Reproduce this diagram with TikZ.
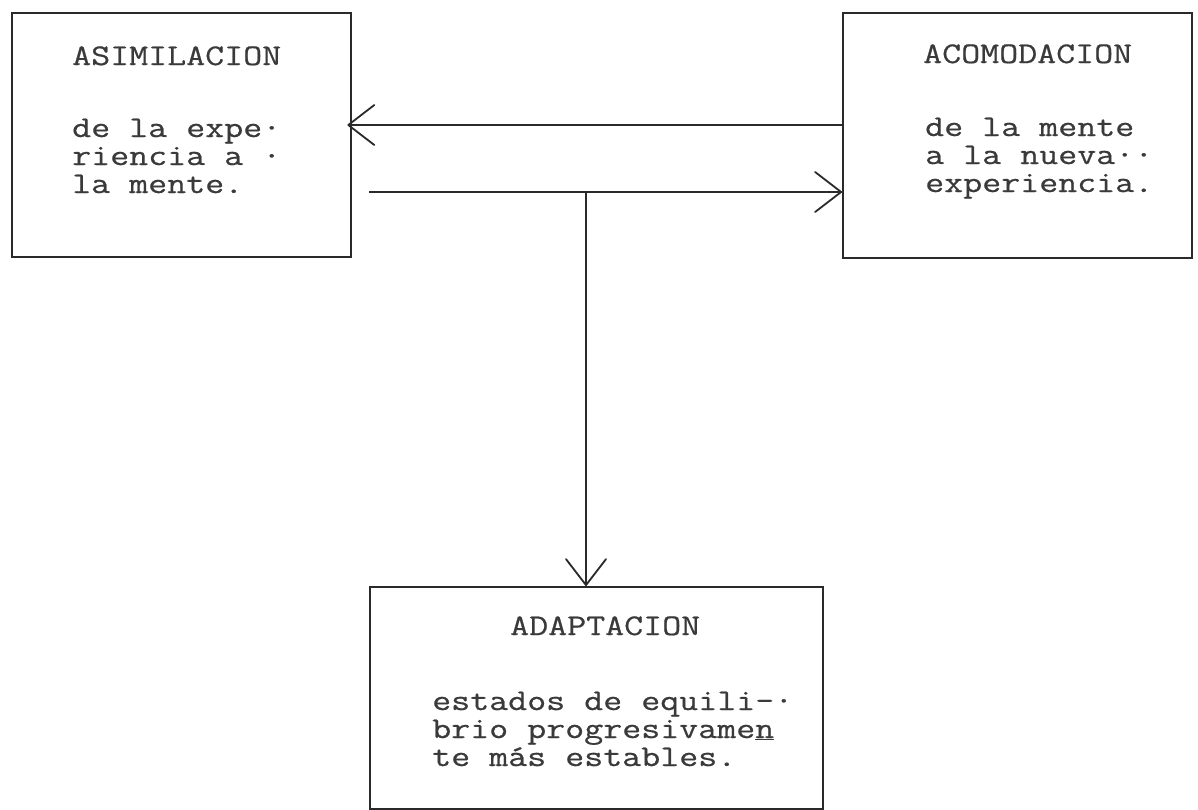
\documentclass[tikz,border=0pt]{standalone}
\usepackage{fontspec}
\setmainfont{Latin Modern Mono}[FakeStretch=1.23, FakeBold=0.6]
\usetikzlibrary{arrows.meta}
\definecolor{ink}{HTML}{2A2A2A}
\definecolor{typed}{HTML}{3A3A3A}
\tikzset{
  framebox/.style={draw=ink, line width=2.4pt, rectangle, inner sep=0pt, anchor=north west},
  typeline/.style={text=typed, font=\fontsize{30}{28}\selectfont, inner sep=0pt,
    text height=19pt, text depth=6pt, anchor=base west},
  conn/.style={draw=ink, line width=1.8pt},
  barb/.style={conn, -{Straight Barb[length=26pt, width=40pt, line width=1.8pt, round]}},
}
\begin{document}
\begin{tikzpicture}[x=1pt, y=-1pt]
  \useasboundingbox (0,0) rectangle (1198,809);

  % the three boxes
  \node[framebox, minimum width=339pt, minimum height=244pt] (asim) at (11,12) {};
  \node[framebox, minimum width=349pt, minimum height=245pt] (acom) at (842,12) {};
  \node[framebox, minimum width=453pt, minimum height=222pt] (adap) at (369,586) {};

  % box texts
  \node[typeline] (asim-t) at (72,65) {ASIMILACION};
  \node[typeline] (asim-1) at (72,137) {de la expe·};
  \node[typeline] (asim-2) at (72,165) {riencia a ·};
  \node[typeline] (asim-3) at (72,193) {la mente.};

  \node[typeline] (acom-t) at (923,63) {ACOMODACION};
  \node[typeline] (acom-1) at (925,136) {de la mente};
  \node[typeline] (acom-2) at (925,164) {a la nueva··};
  \node[typeline] (acom-3) at (925,192) {experiencia.};

  \node[typeline] (adap-t) at (510,635) {ADAPTACION};
  \node[typeline] (adap-1) at (432,710) {estados de equili-·};
  \node[typeline] (adap-2) at (432,738) {brio progresivame\underline{n}};
  \node[typeline] (adap-3) at (432,766) {te más estables.};

  % connectors
  \coordinate (upper) at (0,125);
  \coordinate (lower) at (0,192);
  \coordinate (split) at (586,192);

  \draw[barb, shorten >=-5pt] (acom.west |- upper) -- (asim.east |- upper);
  \draw[barb, shorten <=17pt] (asim.east |- lower) -- (acom.west |- lower);
  \draw[barb] (split) -- (adap.north -| split);
\end{tikzpicture}
\end{document}
